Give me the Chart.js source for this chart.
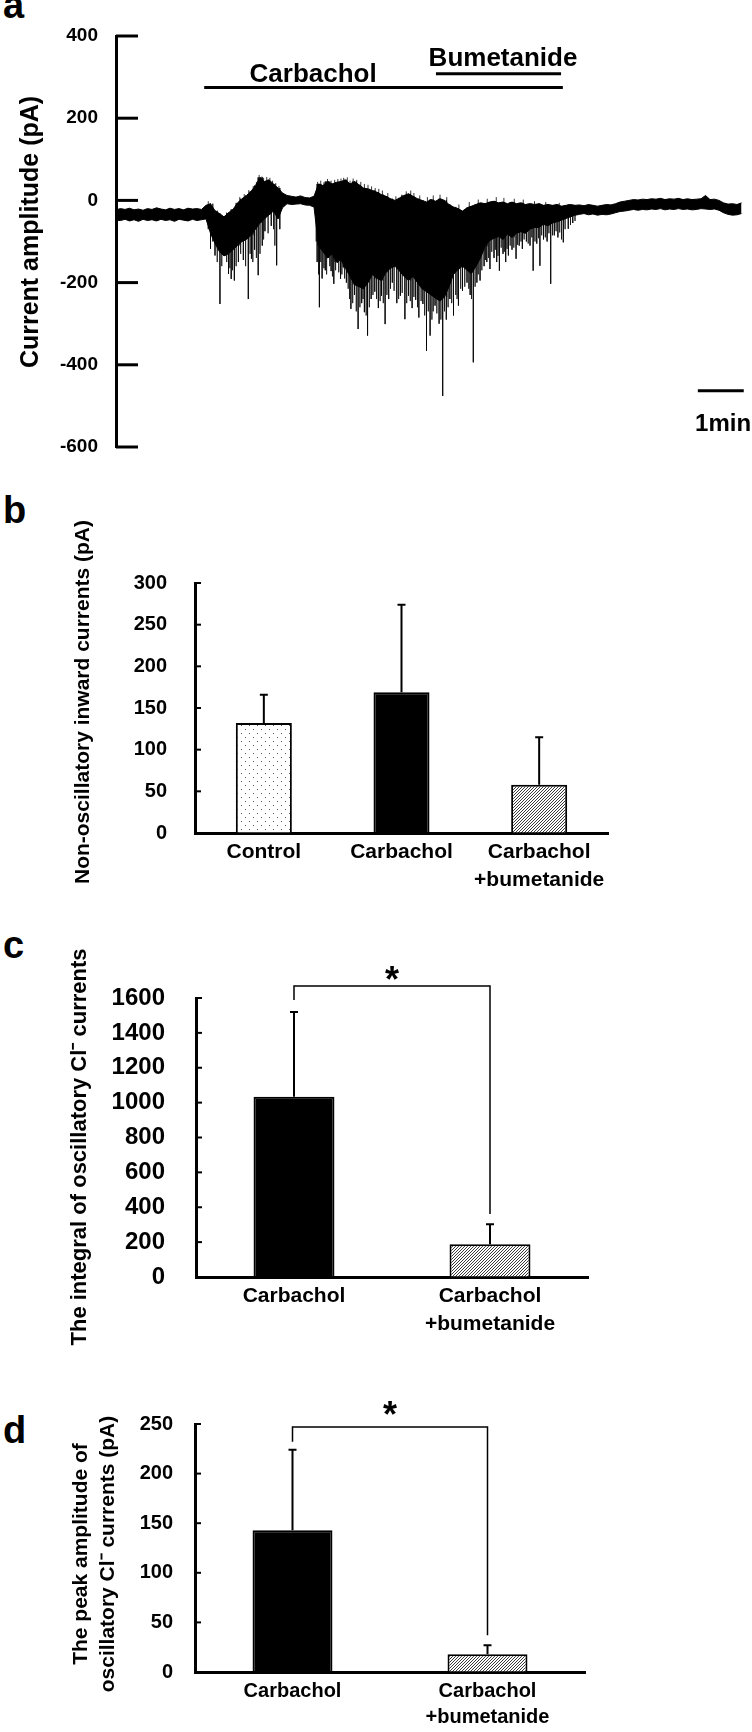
<!DOCTYPE html>
<html lang="en">
  <head>
    <meta charset="UTF-8" />
    <title>Carbachol-induced currents and bumetanide</title>
    <script src="https://cdn.jsdelivr.net/npm/chart.js"></script>
    <style>
      body { margin: 0; width: 752px; height: 1732px; position: relative; background: #fff; overflow: hidden; }
      canvas { position: absolute; left: 0; }
      .letter { position: absolute; left: 3px; font: bold 38px "Liberation Sans", Arial, sans-serif; line-height: 1; }
    </style>
  </head>
  <body>
    <div class="letter" style="top:-14px">a</div>
    <div class="letter" style="top:491px">b</div>
    <div class="letter" style="top:926px">c</div>
    <div class="letter" style="top:1411px">d</div>
    <canvas id="traceChart" width="752" height="480" style="top:0"></canvas>
    <canvas id="inwardChart" width="752" height="440" style="top:460px"></canvas>
    <canvas id="integralChart" width="752" height="470" style="top:880px"></canvas>
    <canvas id="peakChart" width="752" height="382" style="top:1350px"></canvas>
    <script>
      const FONT = "'Liberation Sans', Arial, sans-serif";
      Chart.defaults.font.family = FONT;
      Chart.defaults.color = "#000";

      // ---- a: current trace (time in min, current in pA) ----
      const traceTime = [
        0.0, 0.1, 0.2, 0.3, 0.4, 0.5, 0.6, 0.7, 0.8, 0.9,
        1.0, 1.1, 1.2, 1.3, 1.4, 1.5, 1.6, 1.7, 1.8, 1.9,
        2.0, 2.1, 2.2, 2.3, 2.4, 2.5, 2.6, 2.7, 2.8, 2.9,
        3.0, 3.1, 3.2, 3.3, 3.4, 3.5, 3.6, 3.7, 3.8, 3.9,
        4.0, 4.1, 4.2, 4.3, 4.4, 4.5, 4.6, 4.7, 4.8, 4.9,
        5.0, 5.1, 5.2, 5.3, 5.4, 5.5, 5.6, 5.7, 5.8, 5.9,
        6.0, 6.1, 6.2, 6.3, 6.4, 6.5, 6.6, 6.7, 6.8, 6.9,
        7.0, 7.1, 7.2, 7.3, 7.4, 7.5, 7.6, 7.7, 7.8, 7.9,
        8.0, 8.1, 8.2, 8.3, 8.4, 8.5, 8.6, 8.7, 8.8, 8.9,
        9.0, 9.1, 9.2, 9.3, 9.4, 9.5, 9.6, 9.7, 9.8, 9.9,
        10.0, 10.1, 10.2, 10.3, 10.4, 10.5, 10.6, 10.7, 10.8, 10.9,
        11.0, 11.1, 11.2, 11.3, 11.4, 11.5, 11.6, 11.7, 11.8, 11.9,
        12.0, 12.1, 12.2, 12.3, 12.4, 12.5, 12.6, 12.7, 12.8, 12.9,
        13.0, 13.1, 13.2, 13.3, 13.4, 13.5, 13.6, 13.7, 13.8, 13.9,
      ];
      const traceUpper = [
        -23, -20, -22, -19, -23, -21, -24, -20, -22, -18,
        -21, -23, -19, -22, -20, -23, -19, -21, -20, -22,
        -12, -8, -25, -32, -40, -30, -22, -6, 4, 12,
        22, 36, 56, 46, 50, 40, 30, 18, 12, 10,
        8, 11, 7, 6, 10, 40, 36, 46, 40, 44,
        46, 50, 40, 46, 38, 30, 28, 24, 20, 14,
        10, 4, 0, 6, 12, 16, 10, 4, 0, -4,
        2, -2, 4, 0, -10, -16, -20, -26, -18, -14,
        -10, -6, -8, -4, -2, -6, -4, -8, -4, -8,
        -6, -10, -8, -10, -8, -12, -10, -12, -10, -14,
        -12, -10, -12, -11, -13, -10, -12, -14, -12, -10,
        -11, -8, -4, -2, 0, 2, 1, 3, 2, 4,
        3, 5, 2, 4, 3, 5, 2, 4, 2, 3,
        4, 12, 2, 3, 0, -6, -9, -8, -10, -6,
      ];
      const traceLower = [
        -48, -49, -46, -50, -47, -51, -46, -49, -47, -50,
        -46, -49, -47, -51, -46, -48, -50, -46, -49, -47,
        -45, -80, -105, -125, -135, -130, -120, -110, -100, -95,
        -85, -70, -55, -45, -35, -26, -45, -18, -8, -10,
        -9, -8, -11, -12, -16, -110, -125, -140, -130, -150,
        -145, -165, -185, -205, -210, -215, -200, -180, -190, -195,
        -175, -165, -160, -172, -185, -195, -185, -200, -215, -222,
        -230, -238, -245, -235, -210, -180, -168, -160, -170, -178,
        -160, -140, -112, -98, -92, -88, -95, -82, -90, -80,
        -76, -80, -70, -66, -66, -58, -62, -55, -52, -48,
        -44, -40, -36, -34, -32, -35, -33, -36, -34, -35,
        -33, -30, -27, -26, -24, -22, -24, -22, -23, -21,
        -22, -20, -23, -21, -22, -20, -22, -21, -23, -22,
        -20, -21, -22, -21, -24, -30, -34, -36, -35, -32,
      ];
      // large inward spikes
      const spikeTime = [
        2.10, 2.20, 2.31, 2.42, 2.50, 2.56, 2.63, 2.72, 2.83, 2.94,
        3.01, 3.08, 3.16, 3.25, 3.31, 3.45, 3.57, 3.64,
        4.47, 4.52, 4.58, 4.65, 4.72, 4.78, 4.84, 4.92, 4.99, 5.05,
        5.12, 5.22, 5.30, 5.38, 5.46, 5.52, 5.59, 5.67, 5.75, 5.83,
        5.90, 5.98, 6.06, 6.14, 6.24, 6.32, 6.42, 6.50, 6.58, 6.66,
        6.73, 6.82, 6.90, 6.98, 7.09, 7.18, 7.26, 7.34, 7.42, 7.50,
        7.61, 7.70, 7.80, 7.87, 7.94, 8.02, 8.09, 8.18, 8.24, 8.31,
        8.40, 8.46, 8.52, 8.60, 8.66, 8.72, 8.80, 8.89, 8.96, 9.03,
        9.12, 9.20, 9.27, 9.35, 9.42, 9.50, 9.58, 9.66, 9.74, 9.82,
        9.94, 10.05, 10.15,
      ];
      const spikeDepth = [
        -118, -134, -252, -134, -179, -191, -195, -150, -145, -240,
        -142, -120, -182, -110, -75, -62, -158, -70,
        -150, -260, -190, -170, -140, -172, -203, -152, -191, -162,
        -200, -264, -230, -313, -250, -272, -329, -240, -222, -262,
        -232, -301, -240, -200, -250, -232, -289, -232, -262, -242,
        -285, -252, -366, -329, -256, -300, -476, -290, -240, -280,
        -256, -220, -200, -230, -394, -200, -195, -160, -150, -167,
        -140, -150, -171, -130, -150, -134, -120, -142, -110, -118,
        -100, -110, -171, -105, -159, -95, -100, -203, -85, -90,
        -102, -69, -55,
      ];
      // smaller inward spikes filling the bursts
      const minorSpikeTime = [
        2.05, 2.15, 2.25, 2.35, 2.46, 2.53, 2.59, 2.67, 2.77, 2.88,
        2.98, 3.04, 3.12, 3.20, 3.28, 3.38, 3.50, 3.53,
        4.45, 4.50, 4.55, 4.62, 4.68, 4.75, 4.81, 4.88, 4.95, 5.02,
        5.08, 5.16, 5.19, 5.26, 5.34, 5.42, 5.49, 5.56, 5.63, 5.71,
        5.79, 5.87, 5.94, 6.02, 6.10, 6.18, 6.28, 6.36, 6.46, 6.54,
        6.62, 6.70, 6.78, 6.86, 6.94, 7.02, 7.05, 7.13, 7.22, 7.30,
        7.38, 7.46, 7.55, 7.58, 7.66, 7.75, 7.84, 7.90, 7.98, 8.05,
        8.13, 8.21, 8.28, 8.35, 8.43, 8.49, 8.56, 8.63, 8.69, 8.76,
        8.84, 8.92, 9.00, 9.07, 9.16, 9.24, 9.31, 9.39, 9.46, 9.54,
        9.62, 9.70, 9.78, 9.86, 9.90, 9.98, 10.10, 10.20,
      ];
      const minorSpikeDepth = [
        -70, -100, -150, -160, -150, -165, -170, -160, -130, -160,
        -130, -150, -140, -130, -95, -80, -70, -110,
        -100, -180, -150, -165, -180, -160, -185, -170, -175, -180,
        -190, -215, -240, -250, -270, -260, -240, -280, -260, -230,
        -240, -245, -250, -230, -215, -220, -240, -225, -250, -245,
        -235, -260, -245, -280, -270, -290, -270, -275, -290, -270,
        -260, -250, -230, -240, -215, -210, -215, -240, -210, -180,
        -170, -145, -140, -125, -120, -135, -115, -125, -118, -110,
        -115, -108, -100, -95, -105, -90, -100, -92, -85, -90,
        -80, -85, -75, -78, -95, -70, -60, -50,
      ];
      // short outward excursions on top of the bursts
      const upSpikeTime = [
        2.05, 2.75, 2.85, 2.95, 3.05, 3.12, 3.18, 3.24, 3.28, 3.35,
        3.42, 3.48, 3.55, 3.62,
        4.48, 4.55, 4.62, 4.70, 4.78, 4.86, 4.93, 5.00, 5.06, 5.14,
        5.20, 5.27, 5.35, 5.44, 5.52, 5.60, 5.68, 5.76, 5.84, 5.92,
        6.04, 6.22, 6.35, 6.45, 6.55, 6.62, 6.75, 6.92, 7.05, 7.20,
        7.35, 7.62, 7.85, 8.05, 8.25, 8.45, 8.62, 8.85, 9.05, 9.30,
        9.55, 9.85,
      ];
      const upSpikeHeight = [
        -2, 8, 15, 25, 35, 45, 62, 58, 55, 57,
        55, 48, 42, 35,
        45, 48, 44, 52, 48, 50, 52, 53, 55, 56,
        48, 53, 50, 45, 40, 38, 34, 30, 28, 24,
        18, 10, 14, 22, 24, 18, 12, 8, 12, 14,
        8, -10, -4, 2, 4, 8, 6, 4, 2, -2,
        -4, -6,
      ];
      const traceTicks = [400, 200, 0, -200, -400, -600];
      const drugNames = ["Carbachol", "Bumetanide"];
      const drugOn = [1.96, 7.11];
      const drugOff = [9.93, 9.89];
      const scaleBarMin = [12.93, 13.95];

      // ---- b: non-oscillatory inward currents (pA) ----
      const inwardLabels = ["Control", "Carbachol", ["Carbachol", "+bumetanide"]];
      const inwardMeans = [132, 169, 58];
      const inwardErrors = [34, 105, 57];
      const inwardTicks = [0, 50, 100, 150, 200, 250, 300];

      // ---- c: integral of oscillatory Cl- currents ----
      const integralLabels = ["Carbachol", ["Carbachol", "+bumetanide"]];
      const integralMeans = [1033, 188];
      const integralErrors = [486, 115];
      const integralTicks = [0, 200, 400, 600, 800, 1000, 1200, 1400, 1600];

      // ---- d: peak amplitude of oscillatory Cl- currents (pA) ----
      const peakLabels = ["Carbachol", ["Carbachol", "+bumetanide"]];
      const peakMeans = [143, 18];
      const peakErrors = [81, 9];
      const peakTicks = [0, 50, 100, 150, 200, 250];

      function valueAxis(ticks, size, padding, width) {
        return {
          min: Math.min(...ticks),
          max: Math.max(...ticks),
          afterFit: (s) => { s.width = width; },
          afterBuildTicks: (s) => { s.ticks = ticks.map((v) => ({ value: v })); },
          grid: { drawOnChartArea: false, drawTicks: false },
          border: { color: "#000", width: 3 },
          ticks: { color: "#000", padding, font: { size, weight: "bold" }, callback: (v) => String(v) },
        };
      }

      // tick marks pointing into the plot
      function inwardTicksPlugin(length, width) {
        return {
          id: "inwardTicks",
          afterDraw(chart) {
            const { ctx, chartArea, scales: { y } } = chart;
            ctx.save();
            ctx.strokeStyle = "#000";
            ctx.lineWidth = width;
            y.ticks.forEach((t) => {
              const py = y.getPixelForValue(t.value);
              ctx.beginPath();
              ctx.moveTo(chartArea.left, py);
              ctx.lineTo(chartArea.left + length, py);
              ctx.stroke();
            });
            ctx.restore();
          },
        };
      }

      function sideTitle(lines, size, x, y, gap) {
        return {
          id: "sideTitle",
          afterDraw(chart) {
            const ctx = chart.ctx;
            ctx.save();
            ctx.fillStyle = "#000";
            ctx.font = "bold " + size + "px " + FONT;
            ctx.textAlign = "center";
            ctx.textBaseline = "middle";
            lines.forEach((line, i) => {
              ctx.save();
              ctx.translate(x + i * (gap || 0), y);
              ctx.rotate(-Math.PI / 2);
              ctx.fillText(line, 0, 0);
              ctx.restore();
            });
            ctx.restore();
          },
        };
      }

      const errorBars = {
        id: "errorBars",
        afterDatasetsDraw(chart) {
          const ds = chart.data.datasets[0];
          const y = chart.scales.y;
          const ctx = chart.ctx;
          ctx.save();
          ctx.strokeStyle = "#000";
          ctx.lineWidth = 2;
          chart.getDatasetMeta(0).data.forEach((bar, i) => {
            const top = y.getPixelForValue(ds.data[i] + ds.errors[i]);
            ctx.beginPath();
            ctx.moveTo(bar.x, bar.y);
            ctx.lineTo(bar.x, top);
            ctx.moveTo(bar.x - 4, top);
            ctx.lineTo(bar.x + 4, top);
            ctx.stroke();
          });
          ctx.restore();
        },
      };

      function sigBracket(level, leftEnd, rightEnd, starBase) {
        return {
          id: "sigBracket",
          afterDraw(chart) {
            const { ctx, scales: { x, y } } = chart;
            const xa = x.getPixelForValue(0);
            const xb = x.getPixelForValue(1);
            const top = y.getPixelForValue(level);
            ctx.save();
            ctx.strokeStyle = "#000";
            ctx.lineWidth = 1.5;
            ctx.beginPath();
            ctx.moveTo(xa, y.getPixelForValue(leftEnd));
            ctx.lineTo(xa, top);
            ctx.lineTo(xb, top);
            ctx.lineTo(xb, y.getPixelForValue(rightEnd));
            ctx.stroke();
            ctx.fillStyle = "#000";
            ctx.font = "bold 36px " + FONT;
            ctx.textAlign = "center";
            ctx.textBaseline = "alphabetic";
            ctx.fillText("*", (xa + xb) / 2, y.getPixelForValue(starBase));
            ctx.restore();
          },
        };
      }

      function makePattern(canvas, kind) {
        const tile = document.createElement("canvas");
        const g = tile.getContext("2d");
        if (kind === "dots") {
          tile.width = tile.height = 8;
          g.fillStyle = "#fff";
          g.fillRect(0, 0, 8, 8);
          g.fillStyle = "#555";
          g.fillRect(1, 1, 1, 1);
          g.fillRect(5, 5, 1, 1);
        } else {
          tile.width = tile.height = 3;
          g.fillStyle = "#fff";
          g.fillRect(0, 0, 3, 3);
          g.strokeStyle = "#3a3a3a";
          g.lineWidth = 1;
          g.beginPath();
          g.moveTo(0, 3); g.lineTo(3, 0);
          g.moveTo(-1, 1); g.lineTo(1, -1);
          g.moveTo(2, 4); g.lineTo(4, 2);
          g.stroke();
        }
        return canvas.getContext("2d").createPattern(tile, "repeat");
      }

      // ---- panel a ----
      const nearest = (t) =>
        traceTime.reduce((best, v, i) => (Math.abs(v - t) < Math.abs(traceTime[best] - t) ? i : best), 0);
      // each spike is a vertical segment that starts inside the dense band
      const segments = (times, ends, from) =>
        times.flatMap((t, i) => [
          { x: t, y: from[nearest(t)] },
          { x: t, y: ends[i] },
          { x: t, y: null },
        ]);
      const barY = [275, 308];
      const traceText = [
        { text: drugNames[0], t: 4.38, v: 288, size: 26 },
        { text: drugNames[1], t: 8.6, v: 327, size: 26 },
        { text: "1min", t: 13.49, v: -560, size: 24 },
      ];
      const traceLabels = {
        id: "traceLabels",
        afterDraw(chart) {
          const { ctx, scales: { x, y } } = chart;
          ctx.save();
          ctx.fillStyle = "#000";
          ctx.textAlign = "center";
          ctx.textBaseline = "alphabetic";
          traceText.forEach((it) => {
            ctx.font = "bold " + it.size + "px " + FONT;
            ctx.fillText(it.text, x.getPixelForValue(it.t), y.getPixelForValue(it.v));
          });
          ctx.restore();
        },
      };

      new Chart(document.getElementById("traceChart"), {
        type: "line",
        data: {
          datasets: [
            { data: traceTime.map((t, i) => ({ x: t, y: traceUpper[i] })), borderColor: "#000", borderWidth: 1, fill: false },
            { data: traceTime.map((t, i) => ({ x: t, y: traceLower[i] })), borderColor: "#000", borderWidth: 1, fill: "-1", backgroundColor: "#000" },
            { data: segments(minorSpikeTime, minorSpikeDepth, traceUpper), borderColor: "rgba(0,0,0,0.55)", borderWidth: 1, spanGaps: false, fill: false },
            { data: segments(spikeTime, spikeDepth, traceUpper), borderColor: "rgba(0,0,0,0.75)", borderWidth: 1, spanGaps: false, fill: false },
            { data: segments(upSpikeTime, upSpikeHeight, traceLower), borderColor: "rgba(0,0,0,0.8)", borderWidth: 1, spanGaps: false, fill: false },
            ...drugNames.map((n, i) => ({
              data: [{ x: drugOn[i], y: barY[i] }, { x: drugOff[i], y: barY[i] }],
              borderColor: "#000", borderWidth: 3, fill: false,
            })),
            { data: scaleBarMin.map((t) => ({ x: t, y: -463 })), borderColor: "#000", borderWidth: 3, fill: false },
          ],
        },
        options: {
          responsive: false,
          animation: false,
          elements: { point: { radius: 0 }, line: { tension: 0 } },
          layout: { padding: { top: 36, bottom: 33, right: 6, left: 0 } },
          plugins: { legend: { display: false }, tooltip: { enabled: false } },
          scales: {
            x: { type: "linear", min: 0, max: 14, display: false },
            y: valueAxis(traceTicks, 19, 18, 116),
          },
        },
        plugins: [inwardTicksPlugin(22, 3), traceLabels, sideTitle(["Current amplitude (pA)"], 25, 31, 232)],
      });

      // ---- panels b, c, d ----
      function barChart(id, labels, means, errors, ticks, o) {
        const canvas = document.getElementById(id);
        const fills = o.kinds.map((k) => (k === "solid" ? "#000" : makePattern(canvas, k)));
        const extra = o.sig ? [sigBracket(...o.sig)] : [];
        return new Chart(canvas, {
          type: "bar",
          data: {
            labels,
            datasets: [{
              data: means,
              errors,
              backgroundColor: fills,
              borderColor: "#000",
              borderWidth: 2,
              barPercentage: o.barPct,
              categoryPercentage: 1,
            }],
          },
          options: {
            responsive: false,
            animation: false,
            layout: { padding: { top: o.top, right: 752 - o.right, bottom: 0, left: 0 } },
            plugins: { legend: { display: false }, tooltip: { enabled: false } },
            scales: {
              x: {
                afterFit: (s) => { s.height = o.xHeight; },
                grid: { drawOnChartArea: false, drawTicks: false },
                border: { color: "#000", width: 3 },
                ticks: {
                  color: "#000", padding: 6, autoSkip: false, maxRotation: 0,
                  font: { size: o.labelSize, weight: "bold", lineHeight: 1.3 },
                },
              },
              y: valueAxis(ticks, o.tickSize, o.tickPad, o.left),
            },
          },
          plugins: [inwardTicksPlugin(6, 2), errorBars, sideTitle(o.title, o.titleSize, o.titleX, o.titleY, 27), ...extra],
        });
      }

      barChart("inwardChart", inwardLabels, inwardMeans, inwardErrors, inwardTicks, {
        kinds: ["dots", "solid", "hatch"], barPct: 0.407,
        top: 123, right: 608, left: 195, xHeight: 67,
        labelSize: 21, tickSize: 20, tickPad: 28,
        title: ["Non-oscillatory inward currents (pA)"], titleSize: 21, titleX: 83, titleY: 242,
      });

      barChart("integralChart", integralLabels, integralMeans, integralErrors, integralTicks, {
        kinds: ["solid", "hatch"], barPct: 0.413,
        top: 118, right: 588, left: 196, xHeight: 73,
        labelSize: 21, tickSize: 24, tickPad: 31,
        title: ["The integral of oscillatory Cl\u207B currents"], titleSize: 22, titleX: 80, titleY: 267,
        sig: [1669, 1588, 361, 1634],
      });

      barChart("peakChart", peakLabels, peakMeans, peakErrors, peakTicks, {
        kinds: ["solid", "hatch"], barPct: 0.41,
        top: 74, right: 585, left: 195, xHeight: 60,
        labelSize: 20, tickSize: 20, tickPad: 22,
        title: ["The peak amplitude of", "oscillatory Cl\u207B currents (pA)"], titleSize: 21, titleX: 81, titleY: 204,
        sig: [247, 232, 37, 247],
      });
    </script>
  </body>
</html>
